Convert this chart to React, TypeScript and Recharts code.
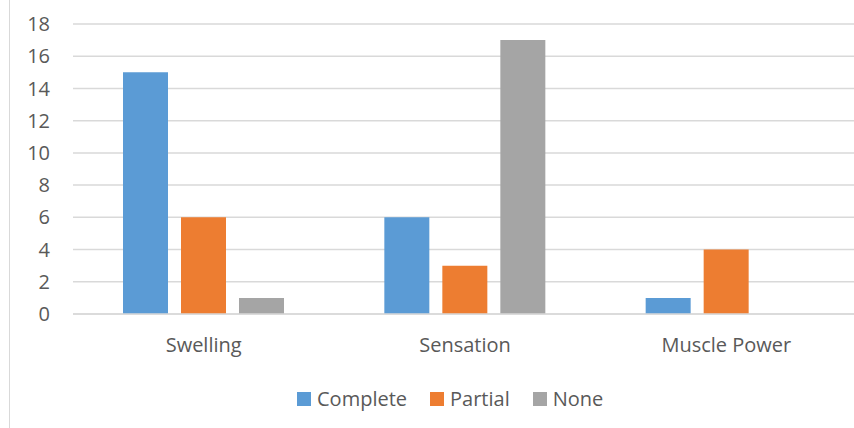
import React from 'react';
import { BarChart, Bar, XAxis, YAxis, CartesianGrid, Legend } from 'recharts';

const categories = ['Swelling', 'Sensation', 'Muscle Power'];
const completeValues = [15, 6, 1];
const partialValues = [6, 3, 4];
const noneValues = [1, 17, 0];
const yTicks = [0, 2, 4, 6, 8, 10, 12, 14, 16, 18];

const seriesInfo = [
  { key: 'Complete', color: '#5b9bd5' },
  { key: 'Partial', color: '#ed7d31' },
  { key: 'None', color: '#a5a5a5' },
];

const data = categories.map((name, i) => ({
  name,
  Complete: completeValues[i],
  Partial: partialValues[i],
  None: noneValues[i],
}));

const FONT = '"Open Sans", sans-serif';
const TEXT = '#595959';

const LegendContent = () => (
  <div style={{ display: 'flex', alignItems: 'center', fontFamily: FONT, fontSize: 20, color: TEXT, lineHeight: '26px', whiteSpace: 'nowrap' }}>
    {seriesInfo.map((s, i) => (
      <div key={s.key} style={{ display: 'flex', alignItems: 'center', marginRight: i < seriesInfo.length - 1 ? 23 : 0 }}>
        <span style={{ display: 'inline-block', width: 14, height: 14, background: s.color, marginRight: 6 }} />
        <span>{s.key}</span>
      </div>
    ))}
  </div>
);

export default function App() {
  return (
    <div style={{ position: 'absolute', left: 0, top: 0, width: 854, height: 428, overflow: 'hidden', background: '#fff' }}>
      <div style={{ position: 'absolute', left: 9, top: 0, width: 1, height: 428, background: '#d9d9d9' }} />
      <BarChart
        width={870}
        height={428}
        data={data}
        margin={{ top: 24, right: 13, left: 0, bottom: 0 }}
        barSize={45}
        barGap={13}
      >
        <CartesianGrid vertical={false} stroke="#d9d9d9" strokeWidth={1.5} />
        <XAxis
          dataKey="name"
          height={86}
          axisLine={{ stroke: '#d9d9d9', strokeWidth: 1.5 }}
          tickLine={false}
          tickSize={0}
          tickMargin={24}
          tick={{ fill: TEXT, fontSize: 20, fontFamily: FONT }}
        />
        <YAxis
          width={73}
          domain={[0, 18]}
          ticks={yTicks}
          interval={0}
          axisLine={false}
          tickLine={false}
          tickSize={0}
          tickMargin={23}
          tick={{ fill: TEXT, fontSize: 20, fontFamily: FONT }}
        />
        <Legend
          verticalAlign="bottom"
          content={<LegendContent />}
          wrapperStyle={{ top: 386, bottom: 'auto', left: 297, width: 'auto', height: 28 }}
        />
        {seriesInfo.map((s) => (
          <Bar key={s.key} dataKey={s.key} fill={s.color} isAnimationActive={false} />
        ))}
      </BarChart>
    </div>
  );
}
